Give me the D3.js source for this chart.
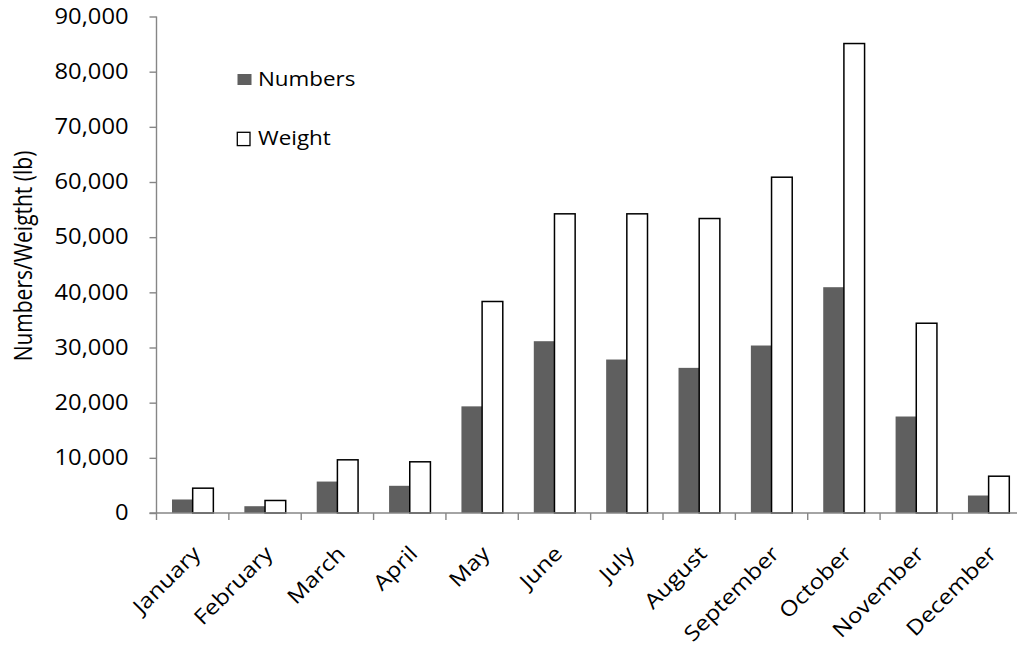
<!DOCTYPE html>
<html><head><meta charset="utf-8">
<script src="https://cdn.jsdelivr.net/npm/d3@7"></script>
<style>
body{margin:0;background:#fff}
svg{display:block}
text{font-family:"Open Sans",sans-serif;fill:#000}
</style>
</head><body><svg id="c" width="1017" height="646"></svg>
<script>
const months = ["January","February","March","April","May","June","July","August","September","October","November","December"];
const numbers = [2450,1230,5700,4930,19330,31140,27820,26310,30360,40930,17490,3170];
const weight = [4500,2270,9640,9280,38340,54230,54230,53380,60870,85100,34400,6670];
const yTicks = [0,10000,20000,30000,40000,50000,60000,70000,80000,90000];
const seriesNames = ["Numbers","Weight"];
const yTitle = "Numbers/Weigtht (lb)";

const svg = d3.select("#c");
const axisColor = "#868686";
const darkFill = "#5f5f5f";
const FS = 21;

const x = d3.scaleBand().domain(months).range([156.5, 1024.8]).padding(0);
const y = d3.scaleLinear().domain([0, 90000]).range([513, 16.5]);
const bw = x.bandwidth() / 3.5;
const off = x.bandwidth() * 0.75 / 3.5;

// y axis
const yAxis = svg.append("g").attr("transform", `translate(${x.range()[0]},0)`)
  .call(d3.axisLeft(y).tickValues(yTicks).tickFormat(d3.format(",")).tickSize(7).tickPadding(20));
yAxis.select(".domain").attr("stroke", axisColor).attr("stroke-width", 1.4).attr("d", `M0,${y(90000)}V${y(0)}`);
yAxis.selectAll(".tick line").attr("stroke", axisColor).attr("stroke-width", 1.4);
yAxis.selectAll(".tick text").attr("font-size", FS).attr("fill", "#000")
  .style("font-family", '"Open Sans",sans-serif')
  .attr("x", 0).attr("transform", "translate(-28,0) scale(1.13,1)");

// bars
const g = svg.append("g");
g.selectAll("rect.num").data(months).join("rect").attr("class", "num")
  .attr("x", (d) => x(d) + off)
  .attr("y", (d, i) => y(numbers[i]))
  .attr("width", bw)
  .attr("height", (d, i) => y(0) - y(numbers[i]))
  .attr("fill", darkFill);
g.selectAll("rect.wt").data(months).join("rect").attr("class", "wt")
  .attr("x", (d) => x(d) + off + bw)
  .attr("y", (d, i) => y(weight[i]))
  .attr("width", bw)
  .attr("height", (d, i) => y(0) - y(weight[i]))
  .attr("fill", "#fff").attr("stroke", "#000").attr("stroke-width", 1.5);

// x axis
const xa = svg.append("g");
xa.append("line").attr("x1", x.range()[0] - 7).attr("x2", x.range()[1])
  .attr("y1", y(0)).attr("y2", y(0)).attr("stroke", axisColor).attr("stroke-width", 1.4);
const bounds = months.map(m => x(m)).concat([x.range()[1]]);
xa.selectAll("line.xt").data(bounds).join("line").attr("class", "xt")
  .attr("x1", d => d).attr("x2", d => d).attr("y1", y(0)).attr("y2", y(0) + 7)
  .attr("stroke", axisColor).attr("stroke-width", 1.4);
xa.selectAll("text.xl").data(months).join("text").attr("class", "xl")
  .attr("transform", d => `translate(${x(d) + x.bandwidth() / 2 + 9},${y(0) + 42}) rotate(-45) scale(1.15,1)`)
  .attr("text-anchor", "end").attr("font-size", FS)
  .text(d => d);

// y title
svg.append("text").attr("transform", `translate(31.5,256) scale(1.22,1) rotate(-90)`)
  .attr("text-anchor", "middle").attr("font-size", FS)
  .text(yTitle);

// legend
const leg = svg.append("g");
leg.append("rect").attr("x", 237.5).attr("y", 74).attr("width", 14).attr("height", 11).attr("fill", darkFill);
leg.append("rect").attr("x", 237.3).attr("y", 132.3).attr("width", 12.7).attr("height", 13.3)
  .attr("fill", "#fff").attr("stroke", "#000").attr("stroke-width", 1.3);
const legBase = [86, 145];
leg.selectAll("text").data(seriesNames).join("text")
  .attr("transform", (d, i) => `translate(258,${legBase[i]}) scale(1.12,1)`)
  .attr("font-size", 20).text(d => d);
</script>
</body></html>
